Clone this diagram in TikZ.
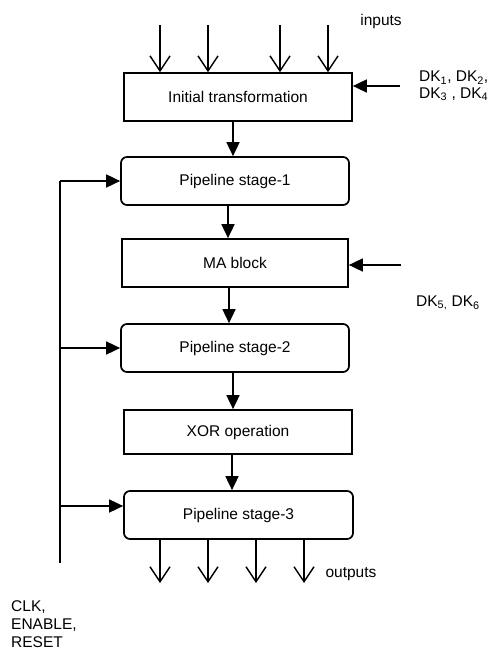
\documentclass[tikz,border=0pt]{standalone}
\usepackage{fontspec}
\setmainfont{Liberation Sans}
\usetikzlibrary{arrows.meta}
\begin{document}
\begin{tikzpicture}[x=1pt,y=-1pt,
  txt/.style={font=\fontsize{15.5}{18}\selectfont, inner sep=0pt},
  blk/.style={draw, line width=1.7pt, minimum width=228pt, minimum height=48pt, inner sep=0pt, font=\fontsize{15.5}{18}\selectfont},
  stg/.style={blk, rounded corners=6pt},
  arr/.style={line width=1.7pt, -{Triangle[length=14pt,width=13pt]}},
  oarr/.style={line width=1.4pt, -{Straight Barb[length=15pt,width=20pt]}}]
\useasboundingbox (0,0) rectangle (489,650);

% blocks
\node[blk] (init) at (238,97) {Initial transformation};
\node[stg] (s1) at (235,181) {Pipeline stage-1};
\node[blk, minimum width=226pt] (ma) at (235,263) {MA block};
\node[stg] (s2) at (235,348) {Pipeline stage-2};
\node[blk, minimum height=44pt] (xor) at (238,432) {XOR operation};
\node[stg, minimum width=229pt] (s3) at (238.5,515) {Pipeline stage-3};

% labels
\node[txt] (inl) at (381,21) {inputs};
\node[txt, anchor=west, align=left, font=\fontsize{15.5}{16.5}\selectfont] (dkA) at (419,86) {DK\textsubscript{1}, DK\textsubscript{2},\\DK\textsubscript{3} , DK\textsubscript{4}};
\node[txt, anchor=west] (dkB) at (416,303) {DK\textsubscript{5,} DK\textsubscript{6}};
\node[txt] (outl) at (351,574) {outputs};
\node[txt, anchor=west, align=left] (clk) at (11,624) {CLK,\\ENABLE,\\RESET};

% inputs
\foreach \i/\x in {1/160,2/208,3/280,4/328}{
  \coordinate (in\i) at (\x,25);
  \draw[oarr] (in\i) -- (in\i |- init.north);
}
% outputs
\foreach \i/\x in {1/160,2/208,3/256,4/304}{
  \coordinate (out\i) at (\x,583);
  \draw[oarr] (out\i |- s3.south) -- (out\i);
}

% vertical chain
\draw[arr] ([xshift=-5pt]init.south) -- ([xshift=-5pt]init.south |- s1.north);
\draw[arr] ([xshift=-7pt]s1.south) -- ([xshift=-7pt]s1.south |- ma.north);
\draw[arr] ([xshift=-6pt]ma.south) -- ([xshift=-6pt]ma.south |- s2.north);
\draw[arr] ([xshift=-2pt]s2.south) -- ([xshift=-2pt]s2.south |- xor.north);
\draw[arr] ([xshift=-6pt]xor.south) -- ([xshift=-6pt]xor.south |- s3.north);

% DK arrows
\coordinate (dk1) at (400,86);
\coordinate (dk2) at (401,265);
\draw[arr] (dk1) -- (dk1 -| init.east);
\draw[arr] (dk2) -- (dk2 -| ma.east);

% clock line
\coordinate (clkTop) at (60,181);
\coordinate (clkBot) at (60,563);
\coordinate (s3in) at ([yshift=9pt]s3.west);
\draw[line width=1.7pt] (clkBot) -- (clkTop);
\draw[arr] (clkTop) -- (s1.west);
\draw[arr] (clkTop |- s2.west) -- (s2.west);
\draw[arr] (clkTop |- s3in) -- (s3in);
\end{tikzpicture}
\end{document}
